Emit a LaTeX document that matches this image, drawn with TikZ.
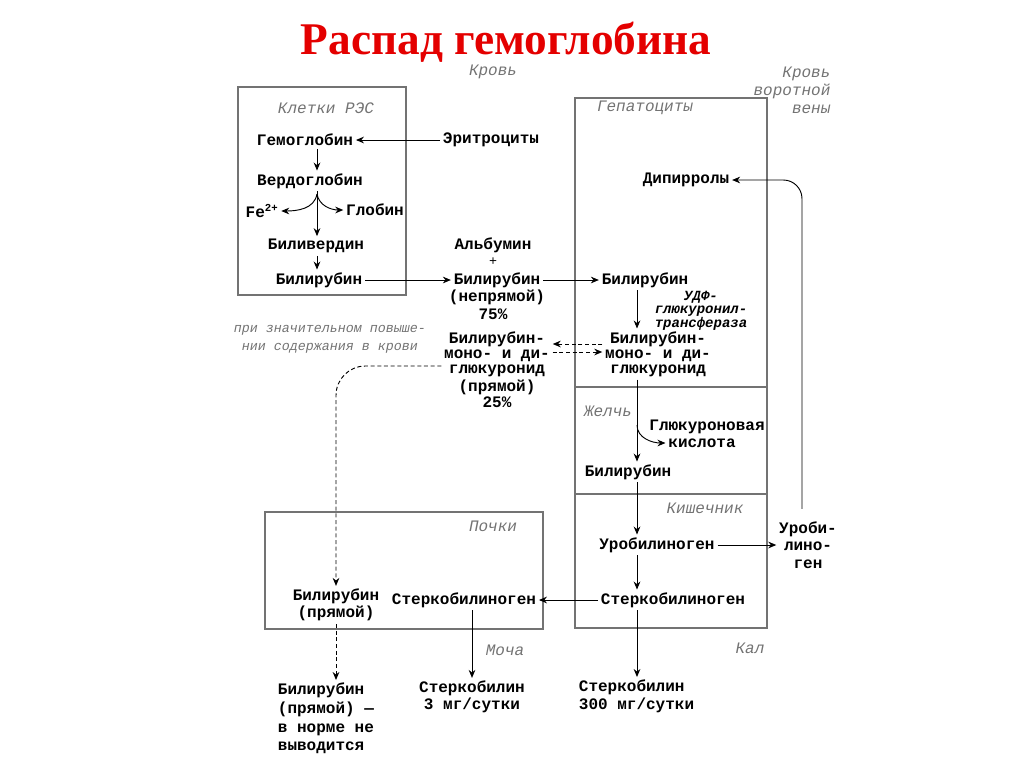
\documentclass[tikz,border=0pt]{standalone}
\usepackage{fontspec}
\setmainfont{Liberation Serif}
\setmonofont{Liberation Mono}
\usetikzlibrary{arrows.meta,calc}
\definecolor{hbred}{RGB}{228,0,0}
\definecolor{hbgray}{RGB}{115,115,115}
\tikzset{
  sub/.style={font=\ttfamily\bfseries\fontsize{12}{13}\selectfont, inner sep=2pt, align=center},
  lbl/.style={font=\ttfamily\itshape\fontsize{12}{13.5}\selectfont, text=hbgray, inner sep=1pt, align=center},
  arr/.style={-{Stealth[length=6pt,width=5pt]}, line width=.7pt},
  darr/.style={arr, dash pattern=on 3pt off 2pt},
  organ/.style={draw=hbgray, line width=.8pt}
}

\begin{document}
\begin{tikzpicture}[x=.75pt,y=-.75pt]
  \useasboundingbox (0,0) rectangle (1024,768);
  \node[text=hbred, font=\bfseries\fontsize{34}{37}\selectfont] (title) at (506,42) {Распад гемоглобина};
  % organs
  \draw[organ] (238,87) rectangle (406,295);
  \draw[organ] (575,98) rectangle (767,628);
  \draw[organ] (575,387) -- (767,387) (575,494) -- (767,494);
  \draw[organ] (265,512) rectangle (543,629);
  \node[lbl] (blood) at (493,72) {Кровь};
  \node[lbl, anchor=east, align=right] (portal) at (832,90) {Кровь\\воротной\\вены};

  % RES cells
  \node[lbl] (res) at (326,108) {Клетки РЭС};
  \node[sub] (hb) at (305,140) {Гемоглобин};
  \node[sub] (ery) at (491,140) {Эритроциты};
  \node[sub] (verdo) at (310,181) {Вердоглобин};
  \node[sub] (fe) at (262,211) {Fe\textsuperscript{2+}};
  \node[sub] (glob) at (375,210) {Глобин};
  \node[sub] (biliv) at (316,246) {Биливердин};
  \node[sub] (bilr) at (319,280) {Билирубин};
  \coordinate (rcol) at (317,0);
  \coordinate (split) at (317,194);
  \draw[arr] (ery) -- (hb);
  \draw[arr] (hb.south -| rcol) -- (verdo.north -| rcol);
  \draw[arr] (verdo.south -| rcol) -- (biliv.north -| rcol);
  \draw[arr] (split) to[out=-100,in=0] (fe.east);
  \draw[arr] (split) to[out=-80,in=180] (glob.west);
  \draw[arr] (biliv.south -| rcol) -- (bilr.north -| rcol);

  % blood
  \node[sub] (alb) at (493,245) {Альбумин};
  \node[font=\ttfamily\fontsize{10}{12}\selectfont, inner sep=1pt] (plus) at (493,262) {+};
  \node[sub] (bilm) at (497,280) {Билирубин};
  \node[sub] (ind) at (497,297) {(непрямой)};
  \node[sub] (p75) at (493,314) {75\%};
  \node[sub] (bmgm) at (497,354) {Билирубин-\\[-1.7pt]моно- и ди-\\[-1.7pt]глюкуронид};
  \node[sub] (dir) at (497,394) {(прямой)\\[-1pt]25\%};
  \node[lbl, font=\ttfamily\itshape\fontsize{10}{13.5}\selectfont] (note) at (330,339) {при значительном повыше-\\нии содержания в крови};

  % hepatocytes
  \node[lbl] (hep) at (645,108) {Гепатоциты};
  \node[sub] (dip) at (686,180) {Дипирролы};
  \node[sub] (bilh) at (645,280) {Билирубин};
  \node[font=\ttfamily\bfseries\itshape\fontsize{10.5}{9.6}\selectfont, align=center, inner sep=1pt] (udf) at (701,311) {УДФ-\\глюкуронил-\\трансфераза};
  \node[sub] (bmgh) at (658,354) {Билирубин-\\[-1.7pt]моно- и ди-\\[-1.7pt]глюкуронид};
  \coordinate (col) at (637,0);
  \draw[arr] (bilr) -- (bilm);
  \draw[arr] (bilm) -- (bilh);
  \draw[arr] (bilh.south -| col) -- (bmgh.north -| col);
  \draw[darr] ($(bmgh.west)+(0,-10)$) -- ($(bmgm.east)+(0,-10)$);
  \draw[darr] ($(bmgm.east)+(0,-2)$) -- ($(bmgh.west)+(0,-2)$);

  % bile
  \node[lbl] (bile) at (608,411) {Желчь};
  \node[sub] (glk) at (707,427) {Глюкуроновая};
  \node[sub] (glk2) at (702,443) {кислота};
  \node[sub] (bilz) at (628,472) {Билирубин};
  \coordinate (gsplit) at (637,425);
  \draw[arr] (bmgh.south -| col) -- (bilz.north -| col);
  \draw[arr] (gsplit) to[out=-90,in=180] (glk2.west);

  % intestine
  \node[lbl] (gut) at (705,508) {Кишечник};
  \node[sub] (urob) at (657,545) {Уробилиноген};
  \node[sub] (urobr) at (808,545) {Уроби-\\лино-\\ген};
  \node[sub] (sth) at (673,600) {Стеркобилиноген};
  \node[lbl] (feces) at (750,648) {Кал};
  \node[sub, align=left, anchor=north west] (stf) at (576,677) {Стеркобилин\\300 мг/сутки};
  \draw[arr] (bilz.south -| col) -- (urob.north -| col);
  \draw[arr] (urob.south -| col) -- (sth.north -| col);
  \draw[arr] (urob) -- (urobr);
  \draw[arr, rounded corners=14pt] ($(urobr.north)+(-6,-10)$) |- (dip.east);
  \draw[arr] (sth.south -| col) -- (stf.north -| col);

  % kidneys
  \node[lbl] (kid) at (493,526) {Почки};
  \node[sub] (bkid) at (336,605) {Билирубин\\(прямой)};
  \node[sub] (stk) at (464,600) {Стеркобилиноген};
  \node[lbl] (urine) at (505,650) {Моча};
  \node[sub] (stb) at (472,697) {Стеркобилин\\3 мг/сутки};
  \node[sub, align=left, anchor=north west] (bout) at (275,680) {Билирубин\\[1pt](прямой) —\\[1pt]в норме не\\[1pt]выводится};
  \draw[arr] (sth) -- (stk);
  \draw[arr] (stk.south -| stb.north) -- (stb.north);
  \draw[darr, rounded corners=22pt] ($(bmgm.west)+(0,12)$) -| (bkid.north);
  \draw[darr] (bkid.south) -- (bkid.south |- bout.north);
\end{tikzpicture}
\end{document}
